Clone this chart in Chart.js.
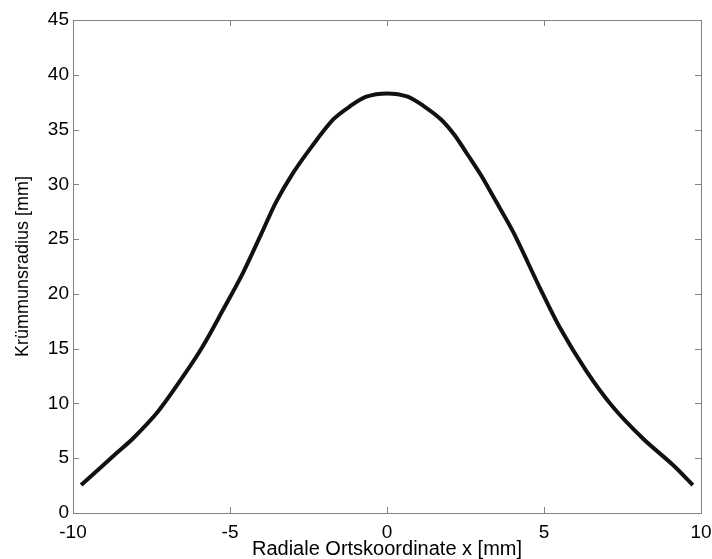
<!DOCTYPE html>
<html>
<head>
<meta charset="utf-8">
<script src="https://cdn.jsdelivr.net/npm/chart.js@4"></script>
<style>
  body { margin: 0; background: #fff; }
</style>
</head>
<body>
<canvas id="curveChart" width="712" height="559"></canvas>
<script>
// x positions [mm]
const xPos = [-9.74, -8.62, -8.09, -7.30, -6.50, -5.87, -5.23, -4.59, -4.00, -3.53,
              -3.00, -2.41, -1.72, -1.19, -0.66, 0.00, 0.66, 1.19, 1.73, 2.15,
              2.57, 3.00, 3.42, 4.01, 4.86, 5.49, 6.34, 7.19, 8.15, 9.10, 9.74];
// Krümmungsradius [mm]
const radius = [2.55, 5.45, 6.8, 9.24, 12.44, 15.2, 18.5, 21.9, 25.5, 28.4,
                31.0, 33.4, 35.9, 37.1, 38.0, 38.3, 38.0, 37.1, 35.9, 34.5,
                32.7, 30.8, 28.7, 25.7, 20.6, 17.0, 13.0, 9.7, 6.8, 4.4, 2.55];
const xTicks = [-10, -5, 0, 5, 10];
const yTicks = [0, 5, 10, 15, 20, 25, 30, 35, 40, 45];

const family = "'Liberation Sans', Arial, sans-serif";
const tickFont = { family: family, size: 19 };

// box around the plot with inward ticks on all four sides (matlab style)
const frameTicks = {
    id: 'frameTicks',
    afterDraw(chart) {
        const ctx = chart.ctx;
        const a = chart.chartArea;
        const x = chart.scales.x, y = chart.scales.y;
        ctx.save();
        ctx.strokeStyle = '#808080';
        ctx.lineWidth = 1;
        ctx.strokeRect(Math.round(a.left) + 0.5, Math.round(a.top) + 0.5,
                       Math.round(a.right - a.left), Math.round(a.bottom - a.top));
        ctx.beginPath();
        xTicks.forEach(v => {
            const px = Math.round(x.getPixelForValue(v)) + 0.5;
            ctx.moveTo(px, a.bottom); ctx.lineTo(px, a.bottom - 6);
            ctx.moveTo(px, a.top); ctx.lineTo(px, a.top + 6);
        });
        yTicks.forEach(v => {
            const py = Math.round(y.getPixelForValue(v)) + 0.5;
            ctx.moveTo(a.left, py); ctx.lineTo(a.left + 6, py);
            ctx.moveTo(a.right, py); ctx.lineTo(a.right - 6, py);
        });
        ctx.stroke();
        ctx.restore();
    }
};

const curveData = {
    datasets: [{
        label: 'Krümmunsradius',
        data: xPos.map((v, i) => ({ x: v, y: radius[i] })),
        borderColor: '#111',
        borderWidth: 4,
        pointRadius: 0,
        tension: 0.3,
        fill: false
    }]
};

const curveConfig = {
    type: 'line',
    data: curveData,
    options: {
        responsive: false,
        animation: false,
        layout: { padding: { top: 20, right: 11, left: 0, bottom: 0 } },
        plugins: { legend: { display: false }, tooltip: { enabled: false } },
        scales: {
            x: {
                type: 'linear',
                min: -10, max: 10,
                afterBuildTicks: s => { s.ticks = xTicks.map(v => ({ value: v })); },
                afterFit: s => { s.height = 46; s.paddingLeft = 0; s.paddingRight = 0; },
                grid: { display: false, drawTicks: false },
                border: { display: false },
                ticks: { color: '#000', font: tickFont, padding: 8, maxRotation: 0 },
                title: {
                    display: true,
                    text: 'Radiale Ortskoordinate x [mm]',
                    color: '#000',
                    font: { family: family, size: 20 },
                    padding: { top: 0, bottom: -2 }
                }
            },
            y: {
                min: 0, max: 45,
                afterBuildTicks: s => { s.ticks = yTicks.map(v => ({ value: v })); },
                afterFit: s => { s.width = 73; s.paddingTop = 0; s.paddingBottom = 0; },
                grid: { display: false, drawTicks: false },
                border: { display: false },
                ticks: { color: '#000', font: tickFont, padding: 4 },
                title: {
                    display: true,
                    text: 'Krümmunsradius [mm]',
                    color: '#000',
                    font: { family: family, size: 18 },
                    padding: { top: 12, bottom: 0 }
                }
            }
        }
    },
    plugins: [frameTicks]
};

window.onload = function() {
    const ctx = document.getElementById('curveChart').getContext('2d');
    new Chart(ctx, curveConfig);
};
</script>
</body>
</html>
